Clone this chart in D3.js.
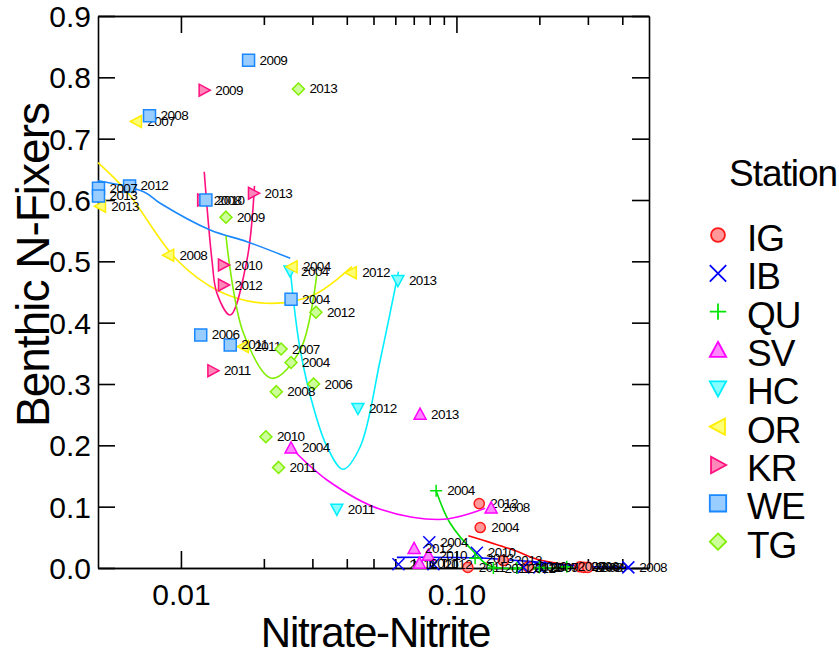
<!DOCTYPE html>
<html>
<head>
<meta charset="utf-8">
<script src="https://cdn.jsdelivr.net/npm/d3@7"></script>
<style>
  body { margin: 0; background: #fff; }
  text { font-family: "Liberation Sans", Arial, sans-serif; }
  .axis path, .axis line { stroke: #000; stroke-width: 1.6px; }
  .axis text { font-size: 30px; fill: #000; }
</style>
</head>
<body>
<svg id="chart" width="839" height="655"></svg>
<script>
// DATA
var stations = ["IG", "IB", "QU", "SV", "HC", "OR", "KR", "WE", "TG"];

// points per station: [nitrate-nitrite, benthic N-fixers, year]
var igPoints = [[0.121, 0.105, 2012], [0.122, 0.066, 2004], [0.148, 0.012, 2013], [0.110, 0.001, 2011],
                [0.182, 0.002, 2010], [0.281, 0.002, 2006], [0.29, 0.001, 2008], [0.30, 0.001, 2009]];
var ibPoints = [[0.0797, 0.042, 2004], [0.0616, 0.006, 2011], [0.0825, 0.006, 2012], [0.1186, 0.025, 2010],
                [0.175, 0.001, 2013], [0.2, 0.001, 2007], [0.4207, 0.001, 2008]];
var quPoints = [[0.0844, 0.126, 2004], [0.1169, 0.016, 2013], [0.1362, 0.0, 2011], [0.1656, 0.0, 2012],
                [0.2, 0.001, 2009], [0.2515, 0.002, 2007]];
var svPoints = [[0.0738, 0.251, 2013], [0.0251, 0.196, 2004], [0.1336, 0.098, 2008], [0.0702, 0.032, 2012],
                [0.0734, 0.008, 2011], [0.0791, 0.021, 2010]];
var hcPoints = [[0.0249, 0.484, 2004], [0.0613, 0.4685, 2013], [0.0439, 0.260, 2012], [0.0368, 0.0957, 2011]];
var orPoints = [[0.00689, 0.728, 2007], [0.0051, 0.590, 2013], [0.00902, 0.510, 2008], [0.0253, 0.491, 2004],
                [0.0415, 0.4815, 2012], [0.01683, 0.361, 2011]];
var krPoints = [[0.01215, 0.779, 2009], [0.01835, 0.611, 2013], [0.01428, 0.494, 2010], [0.01428, 0.4614, 2012],
                [0.01307, 0.3217, 2011], [0.0120, 0.600, 2008]];
var wePoints = [[0.0176, 0.828, 2009], [0.00769, 0.7375, 2008], [0.00651, 0.623, 2012], [0.00502, 0.619, 2007],
                [0.00502, 0.6066, 2013], [0.01232, 0.600, 2010], [0.0251, 0.438, 2004], [0.0118, 0.380, 2006],
                [0.0151, 0.3636, 2011]];
var tgPoints = [[0.0267, 0.781, 2013], [0.01457, 0.572, 2009], [0.0309, 0.417, 2012], [0.0231, 0.357, 2007],
                [0.0251, 0.335, 2004], [0.0303, 0.300, 2006], [0.0222, 0.2875, 2008], [0.02034, 0.214, 2010],
                [0.02261, 0.164, 2011]];

// smoothed trend per station
var igFit = [[0.1105, 0.0527], [0.161, 0.0293], [0.2013, 0.013], [0.2811, 0.0033]];
var ibFit = [[0.0608, 0.0174], [0.1219, 0.0163], [0.1824, 0.0108], [0.2811, 0.0033], [0.4207, 0.0011]];
var quFit = [[0.0844, 0.126], [0.0949, 0.0729], [0.1169, 0.024], [0.1325, 0.0033], [0.2516, 0.0016]];
var svFit = [[0.0251, 0.196], [0.0339, 0.1435], [0.0529, 0.0957], [0.0897, 0.0794], [0.1271, 0.0973]];
var hcFit = [[0.0249, 0.4892], [0.0271, 0.3555], [0.0307, 0.2522], [0.0339, 0.1978], [0.0387, 0.1609],
             [0.0447, 0.1973], [0.0529, 0.3392], [0.0616, 0.4831]];
var orFit = [[0.005, 0.6609], [0.00637, 0.6136], [0.00967, 0.5022], [0.01389, 0.4505], [0.02051, 0.4316],
             [0.03028, 0.4451], [0.04174, 0.4913]];
var krFit = [[0.01215, 0.646], [0.01296, 0.502], [0.01351, 0.448], [0.0151, 0.4125], [0.01736, 0.502],
             [0.01849, 0.623]];
var weFit = [[0.005, 0.6315], [0.00732, 0.6136], [0.00841, 0.5947], [0.01277, 0.5511], [0.01736, 0.532],
             [0.02493, 0.505]];
var tgFit = [[0.01457, 0.5413], [0.01687, 0.3827], [0.02139, 0.3093], [0.0271, 0.3555], [0.03116, 0.4805]];

var xMajorTicks = [0.01, 0.1];
var xMinorTicks = [0.02, 0.03, 0.04, 0.05, 0.06, 0.07, 0.08, 0.09, 0.2, 0.3, 0.4];
var yTicks = [0, 0.1, 0.2, 0.3, 0.4, 0.5, 0.6, 0.7, 0.8, 0.9];

var series = [
  {name: "IG", pts: igPoints, fit: igFit, shape: "circle", fill: "#ff9999", stroke: "#ff1a1a", line: "#ff0000"},
  {name: "IB", pts: ibPoints, fit: ibFit, shape: "times", fill: "none", stroke: "#0000ff", line: "#0000ff"},
  {name: "QU", pts: quPoints, fit: quFit, shape: "plus", fill: "none", stroke: "#00e600", line: "#00dd00"},
  {name: "SV", pts: svPoints, fit: svFit, shape: "up", fill: "#ff88ff", stroke: "#ff00ff", line: "#ff00ff"},
  {name: "HC", pts: hcPoints, fit: hcFit, shape: "down", fill: "#88ffff", stroke: "#00eeff", line: "#00eeff"},
  {name: "OR", pts: orPoints, fit: orFit, shape: "left", fill: "#ffff77", stroke: "#ffee00", line: "#ffee00"},
  {name: "KR", pts: krPoints, fit: krFit, shape: "right", fill: "#ff88bb", stroke: "#ff0f7f", line: "#ff0f7f"},
  {name: "WE", pts: wePoints, fit: weFit, shape: "square", fill: "#99ccff", stroke: "#1a88ff", line: "#1a88ff"},
  {name: "TG", pts: tgPoints, fit: tgFit, shape: "diamond", fill: "#ccff99", stroke: "#80ee00", line: "#80ee00"}
];

var margin = {top: 16, right: 190, bottom: 87, left: 98}
  , width = 839 - margin.left - margin.right
  , height = 655 - margin.top - margin.bottom;

var xScale = d3.scaleLog().domain([0.005, 0.5]).range([0, width]);
var yScale = d3.scaleLinear().domain([0, 0.9]).range([height, 0]);

// marker path centred on 0,0; r is the half size
function markerPath(shape, r) {
  var p = d3.path();
  if (shape === "circle") { p.arc(0, 0, r * 0.85, 0, 2 * Math.PI); }
  else if (shape === "square") { p.rect(-r, -r, 2 * r, 2 * r); }
  else if (shape === "diamond") { p.moveTo(0, -r); p.lineTo(r, 0); p.lineTo(0, r); p.lineTo(-r, 0); p.closePath(); }
  else if (shape === "up") { p.moveTo(0, -r); p.lineTo(r, r * 0.85); p.lineTo(-r, r * 0.85); p.closePath(); }
  else if (shape === "down") { p.moveTo(0, r); p.lineTo(r, -r * 0.85); p.lineTo(-r, -r * 0.85); p.closePath(); }
  else if (shape === "left") { p.moveTo(-r, 0); p.lineTo(r * 0.85, -r); p.lineTo(r * 0.85, r); p.closePath(); }
  else if (shape === "right") { p.moveTo(r, 0); p.lineTo(-r * 0.85, -r); p.lineTo(-r * 0.85, r); p.closePath(); }
  else if (shape === "plus") { p.moveTo(-r, 0); p.lineTo(r, 0); p.moveTo(0, -r); p.lineTo(0, r); }
  else if (shape === "times") { p.moveTo(-r, -r); p.lineTo(r, r); p.moveTo(r, -r); p.lineTo(-r, r); }
  return p.toString();
}

var svg = d3.select("#chart")
  .append("g")
    .attr("transform", "translate(" + margin.left + "," + margin.top + ")");

// axes, ticks pointing inward on all four sides
svg.append("g").attr("class", "axis")
    .attr("transform", "translate(0," + height + ")")
    .call(d3.axisBottom(xScale).tickValues(xMajorTicks).tickSize(-17).tickSizeOuter(0).tickPadding(26).tickFormat(d3.format(".2f")));
svg.append("g").attr("class", "axis")
    .attr("transform", "translate(0," + height + ")")
    .call(d3.axisBottom(xScale).tickValues(xMinorTicks).tickSize(-9).tickSizeOuter(0).tickFormat(""));
svg.append("g").attr("class", "axis")
    .call(d3.axisTop(xScale).tickValues(xMajorTicks).tickSize(-17).tickSizeOuter(0).tickFormat(""));
svg.append("g").attr("class", "axis")
    .call(d3.axisTop(xScale).tickValues(xMinorTicks).tickSize(-9).tickSizeOuter(0).tickFormat(""));
svg.append("g").attr("class", "axis")
    .call(d3.axisLeft(yScale).tickValues(yTicks).tickSize(-17).tickSizeOuter(0).tickPadding(7).tickFormat(d3.format(".1f")));
svg.append("g").attr("class", "axis")
    .attr("transform", "translate(" + width + ",0)")
    .call(d3.axisRight(yScale).tickValues(yTicks).tickSize(-17).tickSizeOuter(0).tickFormat(""));

svg.selectAll(".axis text").attr("dy", null).style("dominant-baseline", "central");

// axis titles
svg.append("text")
    .attr("x", width / 2 + 2)
    .attr("y", height + 79)
    .attr("text-anchor", "middle")
    .style("font-size", "42px")
    .style("letter-spacing", "-1.2px")
    .text("Nitrate-Nitrite");

svg.append("text")
    .attr("transform", "translate(" + (-49) + "," + (height / 2 - 27) + ") rotate(-90)")
    .attr("text-anchor", "middle")
    .style("font-size", "46px")
    .style("letter-spacing", "-1px")
    .text("Benthic N-Fixers");

var line = d3.line()
    .x(function(d) { return xScale(d[0]); })
    .y(function(d) { return yScale(d[1]); })
    .curve(d3.curveCatmullRom.alpha(0.5));

svg.selectAll(".fit")
    .data(series)
  .enter().append("path")
    .attr("class", "fit")
    .attr("d", function(s) { return line(s.fit); })
    .attr("fill", "none")
    .attr("stroke", function(s) { return s.line; })
    .attr("stroke-width", 1.6);

var groups = svg.selectAll(".station")
    .data(series)
  .enter().append("g")
    .attr("class", "station");

groups.selectAll(".dot")
    .data(function(s) { return s.pts.map(function(p) { return {p: p, s: s}; }); })
  .enter().append("path")
    .attr("class", "dot")
    .attr("transform", function(d) { return "translate(" + xScale(d.p[0]) + "," + yScale(d.p[1]) + ")"; })
    .attr("d", function(d) { return markerPath(d.s.shape, 6); })
    .attr("fill", function(d) { return d.s.fill; })
    .attr("stroke", function(d) { return d.s.stroke; })
    .attr("stroke-width", 1.5);

groups.selectAll(".yr")
    .data(function(s) { return s.pts; })
  .enter().append("text")
    .attr("class", "yr")
    .attr("x", function(d) { return xScale(d[0]) + 11; })
    .attr("y", function(d) { return yScale(d[1]) + 4.5; })
    .style("font-size", "13.5px")
    .style("letter-spacing", "-0.6px")
    .text(function(d) { return d[2]; });

// legend
var legend = d3.select("#chart").append("g")
    .attr("transform", "translate(718,0)");

legend.append("text")
    .attr("x", 11)
    .attr("y", 186)
    .style("font-size", "37px")
    .style("letter-spacing", "-1px")
    .text("Station");

var items = legend.selectAll(".legend")
    .data(series)
  .enter().append("g")
    .attr("class", "legend")
    .attr("transform", function(d, i) { return "translate(0," + (235 + i * 38.33) + ")"; });

items.append("path")
    .attr("d", function(d) { return markerPath(d.shape, 8.2); })
    .attr("fill", function(d) { return d.fill; })
    .attr("stroke", function(d) { return d.stroke; })
    .attr("stroke-width", 1.8);

items.append("text")
    .attr("x", 29)
    .attr("y", 16)
    .style("font-size", "37px")
    .style("letter-spacing", "-1px")
    .text(function(d) { return d.name; });
</script>
</body>
</html>
